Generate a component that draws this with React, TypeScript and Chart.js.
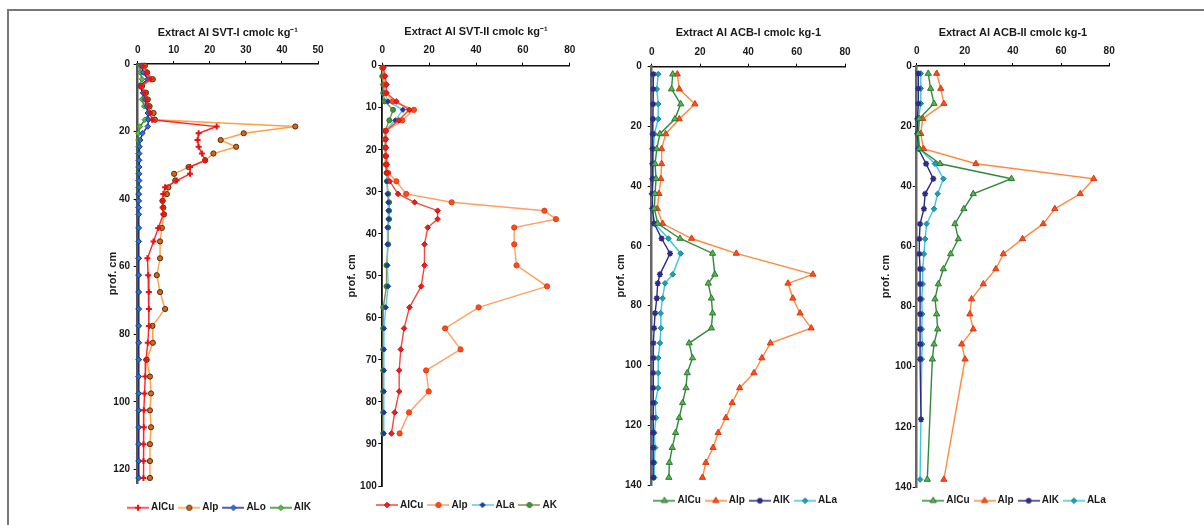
import React, { useEffect, useRef } from 'react';
import { Chart, registerables } from 'chart.js';

Chart.register(...registerables);

const FONT = "'Liberation Sans', Arial, Helvetica, sans-serif";
Chart.defaults.font.family = FONT;
Chart.defaults.color = '#1a1a1a';

// ---------------- DATA ----------------
// Panel 1 : SVT-I (depth cm, values cmolc kg-1)
const svt1Depth = [0.5, 2.5, 4.5, 6.5, 8.5, 10.5, 12.5, 14.5, 16.5, 18.5, 20.5, 22.5, 24.5, 26.5, 28.5, 30.5, 32.5, 34.5, 36.5, 38.5, 40.5, 42.5, 44.5, 48.5, 52.5, 57.5, 62.5, 67.5, 72.5, 77.5, 82.5, 87.5, 92.5, 97.5, 102.5, 107.5, 112.5, 117.5, 122.5];
const svt1AlCu = [1.5, 2.5, 3.6, 0.8, 2.0, 2.5, 3.0, 3.4, 4.0, 21.9, 16.9, 16.6, 16.9, 17.8, 18.7, 14.5, 14.5, 10.8, 7.6, 7.1, 6.9, 6.9, 7.1, 5.7, 4.4, 2.7, 2.9, 3.1, 3.1, 3.1, 2.8, 2.3, 2.1, 1.9, 1.7, 1.7, 1.6, 1.6, 1.6];
const svt1Alp = [2.0, 2.6, 4.2, 1.2, 2.3, 2.8, 3.3, 4.4, 4.8, 43.7, 29.4, 23.0, 27.3, 21.0, 18.7, 14.1, 10.1, 10.4, 8.5, 8.1, 6.9, 7.1, 7.3, 6.7, 6.2, 6.2, 5.3, 6.2, 7.6, 4.1, 4.2, 2.5, 3.4, 3.7, 3.4, 3.7, 3.4, 3.4, 3.4];
const svt1ALo = [1.0, 1.5, 2.8, 0.5, 1.5, 2.0, 2.5, 2.8, 3.0, 2.8, 1.3, 0.7, 0.5, 0.4, 0.4, 0.4, 0.4, 0.4, 0.4, 0.3, 0.3, 0.3, 0.3, 0.3, 0.3, 0.3, 0.3, 0.3, 0.3, 0.3, 0.3, 0.3, 0.3, 0.3, 0.3, 0.3, 0.3, 0.3, 0.3];
const svt1AlK = [0.6, 0.7, 1.2, 0.5, 1.5, 1.2, 1.8, 3.4, 2.0, 0.6, 0.2, 0.2, 0.2, 0.2, 0.2, 0.2, 0.2, 0.2, 0.2, 0.2, 0.2, 0.2, 0.2, 0.2, 0.2, 0.2, 0.2, 0.2, 0.2, 0.2, 0.2, 0.2, 0.2, 0.2, 0.2, 0.2, 0.2, 0.2, 0.2];

// Panel 2 : SVT-II
const svt2Depth = [0.5, 2.5, 4.5, 6.5, 8.5, 10.5, 13, 15.5, 17.5, 19.5, 21.5, 23.5, 25.5, 27.5, 30.5, 32.5, 34.5, 36.5, 38.5, 42.5, 47.5, 52.5, 57.5, 62.5, 67.5, 72.5, 77.5, 82.5, 87.5];
const svt2AlCu = [0.5, 1.2, 1.8, 1.8, 6.0, 11.5, 7.0, 1.5, 1.5, 1.5, 1.6, 1.8, 2.0, 3.2, 6.7, 13.8, 23.6, 23.6, 19.4, 18.0, 18.0, 16.6, 11.6, 9.3, 7.9, 7.2, 7.2, 5.3, 3.9];
const svt2Alp = [0.3, 0.8, 1.2, 1.5, 4.5, 13.5, 8.5, 1.5, 1.3, 1.4, 1.5, 1.8, 2.5, 6.0, 10.2, 29.6, 69.2, 74.1, 56.3, 56.3, 57.3, 70.3, 41.1, 26.8, 33.4, 18.7, 19.8, 11.4, 7.4];
const svt2ALa = [0.2, 0.5, 0.8, 1.0, 2.5, 8.8, 5.5, 1.2, 1.2, 1.3, 1.5, 1.8, 2.0, 2.0, 2.2, 2.5, 2.6, 2.6, 2.2, 2.2, 2.2, 2.5, 1.5, 0.7, 0.7, 0.7, 0.6, 0.6, 0.6];
const svt2AK = [0.0, 0.0, 0.4, 0.4, 1.0, 4.6, 3.0, 1.2, 1.2, 1.2, 1.4, 1.5, 1.8, 2.0, 2.5, 2.9, 2.9, 2.9, 2.5, 2.5, 1.8, 1.8, 0.4, 0.4, 0.4, 0.4, 0.4, 0.4, 0.4];

// Panel 3 : ACB-I
const acb1Depth = [2.5, 7.5, 12.5, 17.5, 22.5, 27.5, 32.5, 37.5, 42.5, 47.5, 52.5, 57.5, 62.5, 69.5, 72.5, 77.5, 82.5, 87.5, 92.5, 97.5, 102.5, 107.5, 112.5, 117.5, 122.5, 127.5, 132.5, 137.5];
const acb1AlCu = [8.7, 8.2, 12.0, 9.6, 3.4, 2.1, 1.4, 1.8, 1.4, 1.1, 2.5, 11.7, 25.2, 26.1, 23.4, 24.7, 25.2, 24.7, 15.5, 16.9, 14.7, 14.2, 12.8, 11.4, 9.9, 8.5, 7.3, 7.1];
const acb1Alp = [10.6, 11.4, 17.9, 11.4, 5.8, 4.1, 4.1, 3.8, 3.0, 2.3, 4.5, 16.5, 35.0, 66.7, 56.4, 58.4, 61.4, 66.0, 49.1, 45.6, 42.3, 36.4, 33.3, 30.7, 27.5, 25.4, 22.4, 21.0];
const acb1AlK = [0.7, 0.6, 0.6, 0.5, 0.4, 0.3, 0.3, 0.3, 0.2, 0.3, 1.0, 4.1, 7.6, 3.4, 2.5, 2.1, 1.4, 1.0, 0.7, 0.7, 0.6, 0.6, 0.6, 0.6, 0.6, 0.6, 0.6, 0.7];
const acb1ALa = [2.7, 2.1, 2.7, 2.7, 1.1, 0.7, 0.7, 0.7, 0.1, 0.4, 1.1, 6.9, 12.0, 8.7, 5.5, 4.5, 3.7, 3.8, 3.4, 2.7, 2.7, 2.7, 1.4, 1.8, 1.1, 1.4, 1.1, 1.0];

// Panel 4 : ACB-II
const acb2Depth = [2.5, 7.5, 12.5, 17.5, 22.5, 27.5, 32.5, 37.5, 42.5, 47.5, 52.5, 57.5, 62.5, 67.5, 72.5, 77.5, 82.5, 87.5, 92.5, 97.5, 137.5];
const acb2AlCu = [4.8, 5.8, 7.2, 1.1, 0.7, 1.1, 9.7, 39.4, 23.5, 19.6, 15.9, 17.3, 14.1, 11.1, 9.0, 7.6, 8.3, 8.7, 7.2, 6.5, 4.4];
const acb2Alp = [8.3, 10.0, 11.3, 2.5, 1.7, 2.8, 24.6, 73.6, 68.0, 57.4, 52.6, 44.0, 36.0, 32.9, 27.7, 22.8, 22.1, 23.5, 18.7, 20.1, 11.3];
const acb2KDepth = [2.5, 7.5, 12.5, 17.5, 22.5, 27.5, 32.5, 37.5, 42.5, 47.5, 52.5, 57.5, 62.5, 67.5, 72.5, 77.5, 82.5, 87.5, 92.5, 97.5, 117.5];
const acb2AlK = [0.7, 0.7, 0.7, 0.3, 0.3, 0.7, 3.9, 6.9, 3.5, 3.0, 1.4, 1.1, 1.1, 1.4, 1.4, 1.4, 1.4, 1.4, 1.4, 1.4, 1.8];
const acb2ALa = [1.7, 1.7, 1.7, 0.7, 0.4, 1.1, 7.6, 11.1, 8.7, 7.2, 4.1, 3.5, 3.0, 2.5, 2.5, 2.1, 2.3, 2.1, 2.3, 2.1, 1.4];

// Axis ranges / tick steps
const svt1Axis = { xMax: 50, xStep: 10, yMax: 124, yStep: 20 };
const svt2Axis = { xMax: 80, xStep: 20, yMax: 100, yStep: 10 };
const acb1Axis = { xMax: 80, xStep: 20, yMax: 140, yStep: 20 };
const acb2Axis = { xMax: 80, xStep: 20, yMax: 140, yStep: 20 };

const svt1Title = 'Extract Al SVT-I cmolc kg\u207B\u00B9';
const svt2Title = 'Extract Al SVT-II cmolc kg\u207B\u00B9';
const acb1Title = 'Extract Al ACB-I cmolc kg-1';
const acb2Title = 'Extract Al ACB-II cmolc kg-1';
const yTitle = 'prof. cm';

// ---------------- STYLES ----------------
const STY: Record<string, any> = {
  p1AlCu: { line: '#ff2424', fill: '#ff2424', stroke: '#e81010', style: 'cross', radius: 3, bw: 2 },
  p1Alp: { line: '#ffa048', fill: '#cf6a22', stroke: '#5a2a00', style: 'circle', radius: 2.6, bw: 1 },
  p1ALo: { line: '#22228c', fill: '#2f70e0', stroke: '#1a3a9a', style: 'rectRot', radius: 2.8, bw: 1 },
  p1AlK: { line: '#2e862e', fill: '#5cbf3c', stroke: '#3a8a2a', style: 'rectRot', radius: 2.8, bw: 1 },
  p2AlCu: { line: '#f24a3a', fill: '#ee1c1c', stroke: '#d01010', style: 'rectRot', radius: 2.8, bw: 1 },
  p2Alp: { line: '#ffa060', fill: '#ff4a1a', stroke: '#e83a10', style: 'circle', radius: 2.6, bw: 1 },
  p2ALa: { line: '#5cc8f0', fill: '#1e3c9a', stroke: '#1e3c9a', style: 'rectRot', radius: 2.6, bw: 1 },
  p2AK: { line: '#8c8c4a', fill: '#3a9a3a', stroke: '#2a7a2a', style: 'circle', radius: 2.5, bw: 1 },
  p3AlCu: { line: '#2f8a3c', fill: '#58b548', stroke: '#2a7a30', style: 'triangle', radius: 3.6, bw: 1 },
  p3Alp: { line: '#ff8a3d', fill: '#ff4b1f', stroke: '#d83a10', style: 'triangle', radius: 3.6, bw: 1 },
  p3AlK: { line: '#2b2b88', fill: '#2b2b88', stroke: '#2b2b88', style: 'star', radius: 3, bw: 1.5 },
  p3ALa: { line: '#3cc6dc', fill: '#1aa0b4', stroke: '#138898', style: 'rectRot', radius: 2.8, bw: 1 },
};

// ---------------- PANELS (layout) ----------------
const panels = [
  {
    key: 'p1', left: 97, width: 231, padR: 10, chartTop: 64, yAxisW: 40.7, chartBottom: 483,
    title: svt1Title, titleY: 33.3, axis: svt1Axis, xTickPad: 4.3, yTickPad: 3.7,
    axisColor: '#555', axisWidth: 2.5, legendCx: 123.5, legendCy: 507.7,
    series: [
      { label: 'AlCu', depth: svt1Depth, values: svt1AlCu, ...STY.p1AlCu },
      { label: 'Alp', depth: svt1Depth, values: svt1Alp, ...STY.p1Alp },
      { label: 'ALo', depth: svt1Depth, values: svt1ALo, ...STY.p1ALo },
      { label: 'AlK', depth: svt1Depth, values: svt1AlK, ...STY.p1AlK },
    ],
  },
  {
    key: 'p2', left: 336, width: 246, padR: 9.7, chartTop: 65.7, yAxisW: 46.3, chartBottom: 486,
    title: svt2Title, titleY: 31.7, axis: svt2Axis, xTickPad: 6.7, yTickPad: 1.5,
    axisColor: '#111', axisWidth: 1.8, legendCx: 132, legendCy: 505,
    series: [
      { label: 'AlCu', depth: svt2Depth, values: svt2AlCu, ...STY.p2AlCu },
      { label: 'Alp', depth: svt2Depth, values: svt2Alp, ...STY.p2Alp },
      { label: 'ALa', depth: svt2Depth, values: svt2ALa, ...STY.p2ALa },
      { label: 'AK', depth: svt2Depth, values: svt2AK, ...STY.p2AK },
    ],
  },
  {
    key: 'p3', left: 605, width: 251, padR: 10.3, chartTop: 66.7, yAxisW: 46.7, chartBottom: 485,
    title: acb1Title, titleY: 33.3, axis: acb1Axis, xTickPad: 5.4, yTickPad: 6,
    axisColor: '#666', axisWidth: 2.5, legendCx: 141.7, legendCy: 500.7,
    series: [
      { label: 'AlCu', depth: acb1Depth, values: acb1AlCu, ...STY.p3AlCu },
      { label: 'Alp', depth: acb1Depth, values: acb1Alp, ...STY.p3Alp },
      { label: 'AlK', depth: acb1Depth, values: acb1AlK, ...STY.p3AlK },
      { label: 'ALa', depth: acb1Depth, values: acb1ALa, ...STY.p3ALa },
    ],
  },
  {
    key: 'p4', left: 870, width: 250, padR: 10.7, chartTop: 66, yAxisW: 46.7, chartBottom: 487,
    title: acb2Title, titleY: 33.3, axis: acb2Axis, xTickPad: 5.3, yTickPad: 1,
    axisColor: '#666', axisWidth: 2.5, legendCx: 145.5, legendCy: 500.7,
    series: [
      { label: 'AlCu', depth: acb2Depth, values: acb2AlCu, ...STY.p3AlCu },
      { label: 'Alp', depth: acb2Depth, values: acb2Alp, ...STY.p3Alp },
      { label: 'AlK', depth: acb2KDepth, values: acb2AlK, ...STY.p3AlK },
      { label: 'ALa', depth: acb2Depth, values: acb2ALa, ...STY.p3ALa },
    ],
  },
];

const H = 525;
const LEGEND_PAD = 7;
const LEGEND_FONT = 10;
const LEGEND_H = LEGEND_FONT + LEGEND_PAD + 10;

function drawMarker(g: CanvasRenderingContext2D, s: any, x: number, y: number) {
  const r = s.radius;
  g.save();
  g.fillStyle = s.fill;
  g.strokeStyle = s.stroke;
  g.lineWidth = s.bw;
  g.beginPath();
  if (s.style === 'circle') {
    g.arc(x, y, r, 0, Math.PI * 2);
    g.closePath();
    g.fill();
    g.stroke();
  } else if (s.style === 'triangle') {
    for (let k = 0; k < 3; k++) {
      const a = (k * 2 * Math.PI) / 3;
      const px = x + Math.sin(a) * r;
      const py = y - Math.cos(a) * r;
      if (k === 0) g.moveTo(px, py); else g.lineTo(px, py);
    }
    g.closePath();
    g.fill();
    g.stroke();
  } else if (s.style === 'rectRot') {
    g.moveTo(x - r, y); g.lineTo(x, y - r); g.lineTo(x + r, y); g.lineTo(x, y + r);
    g.closePath();
    g.fill();
    g.stroke();
  } else if (s.style === 'cross') {
    g.moveTo(x, y - r); g.lineTo(x, y + r); g.moveTo(x - r, y); g.lineTo(x + r, y);
    g.stroke();
  } else {
    g.moveTo(x, y - r); g.lineTo(x, y + r); g.moveTo(x - r, y); g.lineTo(x + r, y);
    const d = r * Math.SQRT1_2;
    g.moveTo(x - d, y - d); g.lineTo(x + d, y + d); g.moveTo(x + d, y - d); g.lineTo(x - d, y + d);
    g.stroke();
  }
  g.restore();
}

function makeSwatch(s: any): HTMLCanvasElement {
  const c = document.createElement('canvas');
  c.width = 22;
  c.height = 10;
  const g = c.getContext('2d') as CanvasRenderingContext2D;
  g.strokeStyle = s.line;
  g.lineWidth = 1.5;
  g.beginPath();
  g.moveTo(0, 5);
  g.lineTo(22, 5);
  g.stroke();
  drawMarker(g, s, 11, 5);
  return c;
}

const legendPlacer = {
  id: 'legendPlacer',
  afterLayout(chart: any, _args: any, opts: any) {
    const lg = chart.legend;
    if (!lg || !opts || opts.cx == null) return;
    const w = lg.right - lg.left;
    const h = lg.bottom - lg.top;
    lg.left = opts.cx - w / 2;
    lg.right = lg.left + w;
    lg.top = opts.cy - LEGEND_PAD - LEGEND_FONT / 2;
    lg.bottom = lg.top + h;
  },
};

function makeConfig(p: any): any {
  const swatches = p.series.map((s: any) => makeSwatch(s));
  const datasets = p.series.map((s: any) => ({
    label: s.label,
    data: s.depth.map((d: number, i: number) => ({ x: s.values[i], y: d })),
    showLine: true,
    borderColor: s.line,
    borderWidth: 1.4,
    backgroundColor: s.fill,
    pointStyle: s.style,
    pointRadius: s.radius,
    pointHoverRadius: s.radius,
    pointBackgroundColor: s.fill,
    pointBorderColor: s.stroke,
    pointBorderWidth: s.bw,
    tension: 0,
    clip: false,
  }));
  const tickFont = { size: 10, weight: 'bold' as const, family: FONT };
  const titleFont = { size: 11, weight: 'bold' as const, family: FONT };
  return {
    type: 'scatter',
    data: { datasets },
    plugins: [legendPlacer],
    options: {
      animation: false,
      responsive: false,
      maintainAspectRatio: false,
      devicePixelRatio: 1,
      events: [],
      layout: { padding: { left: 0, top: 0, right: p.padR, bottom: H - p.chartBottom - LEGEND_H } },
      plugins: {
        tooltip: { enabled: false },
        title: { display: false },
        legendPlacer: { cx: p.legendCx, cy: p.legendCy },
        legend: {
          display: true,
          position: 'bottom',
          labels: {
            usePointStyle: true,
            pointStyleWidth: 16,
            padding: LEGEND_PAD,
            color: '#1a1a1a',
            font: { size: LEGEND_FONT, weight: 'bold', family: FONT },
            generateLabels: (chart: any) =>
              chart.data.datasets.map((ds: any, i: number) => ({
                text: ds.label,
                pointStyle: swatches[i],
                fillStyle: ds.borderColor,
                strokeStyle: ds.borderColor,
                lineWidth: 0,
                hidden: false,
                datasetIndex: i,
                fontColor: '#1a1a1a',
              })),
          },
        },
      },
      scales: {
        x: {
          type: 'linear',
          position: 'top',
          min: 0,
          max: p.axis.xMax,
          ticks: { stepSize: p.axis.xStep, padding: p.xTickPad, font: tickFont, color: '#1a1a1a', maxRotation: 0 },
          grid: { display: true, drawOnChartArea: false, drawTicks: true, tickLength: 3, tickColor: '#000', color: '#000' },
          border: { display: true, color: '#111', width: 1.5 },
          title: { display: true, text: p.title, font: titleFont, color: '#1a1a1a', padding: { top: p.titleY - 6.6, bottom: 0 } },
          afterFit: (s: any) => { s.height = p.chartTop; },
        },
        y: {
          type: 'linear',
          reverse: true,
          min: 0,
          max: p.axis.yMax,
          ticks: { stepSize: p.axis.yStep, includeBounds: false, padding: p.yTickPad, font: tickFont, color: '#1a1a1a' },
          grid: { display: true, drawOnChartArea: false, drawTicks: true, tickLength: 4, tickColor: '#000', color: '#000' },
          border: { display: true, color: p.axisColor, width: p.axisWidth },
          title: { display: true, text: yTitle, font: titleFont, color: '#1a1a1a', padding: { top: 9.4, bottom: 0 } },
          afterFit: (s: any) => { s.width = p.yAxisW; },
        },
      },
    },
  };
}

function Panel({ p }: { p: any }) {
  const ref = useRef<HTMLCanvasElement>(null);
  useEffect(() => {
    if (!ref.current) return;
    const chart = new Chart(ref.current, makeConfig(p));
    return () => chart.destroy();
  }, [p]);
  return (
    <canvas
      ref={ref}
      width={p.width}
      height={H}
      style={{ position: 'absolute', left: p.left, top: 0, width: p.width, height: H }}
    />
  );
}

export default function App() {
  return (
    <div style={{ position: 'absolute', left: 0, top: 0, width: 1204, height: H, overflow: 'hidden', background: '#fff' }}>
      <div
        style={{
          position: 'absolute', left: 7, top: 9, width: 1300, height: 700,
          borderTop: '2px solid #777', borderLeft: '2px solid #777',
        }}
      />
      {panels.map((p) => (
        <Panel key={p.key} p={p} />
      ))}
    </div>
  );
}
